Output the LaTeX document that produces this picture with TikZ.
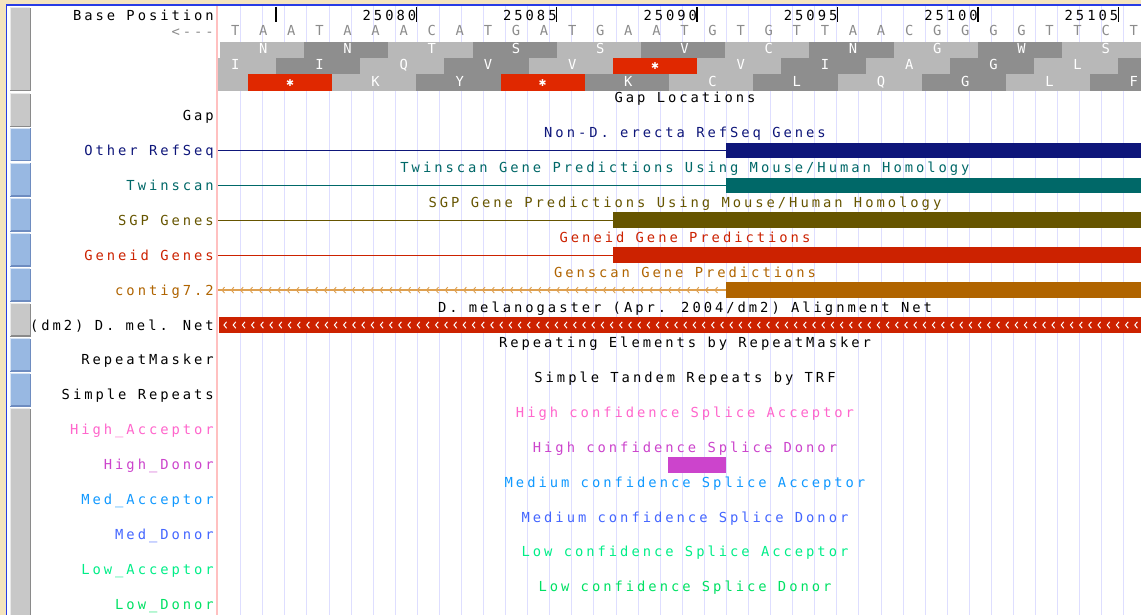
\documentclass[tikz,border=0pt]{standalone}
\usepackage{fontspec}
\newfontfamily\pix{DejaVu Sans Mono}[LetterSpace=21.6]
\newfontfamily\symf{DejaVu Sans}

\definecolor{beige}{RGB}{244,228,190}
\definecolor{frameblue}{RGB}{40,60,230}
\definecolor{guidec}{RGB}{222,222,255}
\definecolor{pinkrule}{RGB}{255,192,192}
\definecolor{aaLight}{RGB}{184,184,184}
\definecolor{aaDark}{RGB}{142,142,142}
\definecolor{stopRed}{RGB}{224,40,0}
\definecolor{baseGray}{RGB}{140,140,140}
\definecolor{refNavy}{RGB}{14,22,122}
\definecolor{twinTeal}{RGB}{0,104,104}
\definecolor{sgpOlive}{RGB}{102,85,0}
\definecolor{geneidRed}{RGB}{204,34,0}
\definecolor{genscanBrown}{RGB}{176,100,0}
\definecolor{genscanLine}{RGB}{222,160,80}
\definecolor{hiAcc}{RGB}{255,102,204}
\definecolor{hiDon}{RGB}{204,68,204}
\definecolor{medAcc}{RGB}{17,153,255}
\definecolor{medDon}{RGB}{68,102,255}
\definecolor{lowAcc}{RGB}{0,238,136}
\definecolor{lowDon}{RGB}{0,225,100}
\definecolor{btnBlue}{RGB}{152,184,226}
\definecolor{btnBlueEdge}{RGB}{110,140,192}
\definecolor{btnGray}{RGB}{200,200,200}
\definecolor{btnGrayEdge}{RGB}{138,138,138}

\tikzset{
  pixfont/.style={font=\pix\fontsize{13.8}{13.8}\selectfont},
  lab/.style={pixfont, inner sep=0, anchor=base east},
  ttl/.style={pixfont, inner sep=0, anchor=base},
  baselet/.style={pixfont, inner sep=0, anchor=base, text=baseGray},
  aalet/.style={pixfont, inner sep=0, anchor=base, text=white},
  guide/.style={guidec, line width=1},
  tickmark/.style={black, line width=1.4},
  chev/.style={white, line width=1},
  arrowtick/.style={genscanLine, line width=0.9},
}

% one amino-acid block of the translated frames: row, first base, letter, fill
\newcommand\cdn[4]{%
  \pgfmathsetmacro\ctop{41.7+16.3*(#1-1)}%
  \fill[#4] ({\xz+\bw*(#2-1)},\ctop) rectangle ({\xz+\bw*(#2+2)},{\ctop+16.3});
  \if\relax\detokenize{#3}\relax\else
    \node[aalet] (aa#1at#2) at ({\xz+\bw*(#2+0.5)+1.4},{\ctop+12}) {#3};
  \fi
}
% stop codon block
\newcommand\stopc[2]{%
  \pgfmathsetmacro\ctop{41.7+16.3*(#1-1)}%
  \fill[stopRed] ({\xz+\bw*(#2-1)},\ctop) rectangle ({\xz+\bw*(#2+2)},{\ctop+16.3});
  \node[inner sep=0, text=white, font=\symf\fontsize{9.5}{9.5}\selectfont] (stop#1at#2)
    at ({\xz+\bw*(#2+0.5)},{\ctop+8.3}) {✱};
}
% track button with bevelled edges: name, top, bottom, fill, edge
\newcommand\btn[5]{%
  \node[fill=#4, minimum width=20pt, minimum height={#3-#2}, inner sep=0,
        anchor=north west] (#1) at (10,#2) {};
  \draw[#5, line width=1.2] (#1.south west) -- (#1.south east) -- (#1.north east);
  \draw[white!60!#4, line width=1] (#1.south west) -- (#1.north west) -- (#1.north east);
}

\begin{document}
\begin{tikzpicture}[x=1pt,y=-1pt]
\def\xz{219.8}\def\bw{28.08}
\useasboundingbox (0,0) rectangle (1141,615);
\fill[white] (0,0) rectangle (1141,615);

% window frame
\fill[beige] (0,0) rectangle (1141,4.2);
\fill[beige] (0,0) rectangle (5.6,615);

% vertical guidelines across the tracks
\foreach \k in {0,...,40}
  \draw[guide] ({240.7+22.08*\k},5.5) -- ({240.7+22.08*\k},615);
\draw[pinkrule, line width=1.2] (217,5.5) -- (217,615);
\draw[frameblue, line width=1.4] (6.7,615) -- (6.7,5) -- (1141,5);

% ---------------- ruler ----------------
\node[lab] (lBase) at (214,20.5) {Base Position};
\node[lab, text=baseGray] (lDir) at (214,36.5) {<---};
\foreach \n [count=\i from 0] in {25075,25080,25085,25090,25095,25100,25105} {
  \draw[tickmark] ({\xz+\bw*(2+5*\i)},7) -- ({\xz+\bw*(2+5*\i)},22);
  \ifnum\i>0
    \node[lab] (r\n) at ({\xz+\bw*(2+5*\i)},20.5) {\n};
  \fi
}
\foreach \b [count=\i] in {T,A,A,T,A,A,A,C,A,T,G,A,T,G,A,A,T,G,T,G,T,T,A,A,C,G,G,G,G,T,T,C,T}
  \node[baselet] (s\i) at ({\xz+\bw*(\i-0.5)+1.4},36) {\b};

% ---------------- three-frame translation ----------------
\begin{scope}
\clip (218,41) rectangle (1141,91);
% frame 1
\cdn{1}{1}{N}{aaLight}  \cdn{1}{4}{N}{aaDark}   \cdn{1}{7}{T}{aaLight}
\cdn{1}{10}{S}{aaDark}  \cdn{1}{13}{S}{aaLight} \cdn{1}{16}{V}{aaDark}
\cdn{1}{19}{C}{aaLight} \cdn{1}{22}{N}{aaDark}  \cdn{1}{25}{G}{aaLight}
\cdn{1}{28}{W}{aaDark}  \cdn{1}{31}{S}{aaLight}
% frame 2
\cdn{2}{0}{I}{aaLight}  \cdn{2}{3}{I}{aaDark}   \cdn{2}{6}{Q}{aaLight}
\cdn{2}{9}{V}{aaDark}   \cdn{2}{12}{V}{aaLight} \stopc{2}{15}
\cdn{2}{18}{V}{aaLight} \cdn{2}{21}{I}{aaDark}  \cdn{2}{24}{A}{aaLight}
\cdn{2}{27}{G}{aaDark}  \cdn{2}{30}{L}{aaLight} \cdn{2}{33}{}{aaDark}
% frame 3
\cdn{3}{-1}{}{aaLight}  \stopc{3}{2}            \cdn{3}{5}{K}{aaLight}
\cdn{3}{8}{Y}{aaDark}   \stopc{3}{11}           \cdn{3}{14}{K}{aaDark}
\cdn{3}{17}{C}{aaLight} \cdn{3}{20}{L}{aaDark}  \cdn{3}{23}{Q}{aaLight}
\cdn{3}{26}{G}{aaDark}  \cdn{3}{29}{L}{aaLight} \cdn{3}{32}{F}{aaDark}
\end{scope}

% ---------------- track titles ----------------
\def\tt#1{103+34.92*#1}
\node[ttl] (tGap) at (685,{\tt{0}}) {Gap Locations};
\node[ttl, text=refNavy] (tRef) at (685,{\tt{1}}) {Non-D. erecta RefSeq Genes};
\node[ttl, text=twinTeal] (tTwin) at (685,{\tt{2}}) {Twinscan Gene Predictions Using Mouse/Human Homology};
\node[ttl, text=sgpOlive] (tSgp) at (685,{\tt{3}}) {SGP Gene Predictions Using Mouse/Human Homology};
\node[ttl, text=geneidRed] (tGeneid) at (685,{\tt{4}}) {Geneid Gene Predictions};
\node[ttl, text=genscanBrown] (tGenscan) at (685,{\tt{5}}) {Genscan Gene Predictions};
\node[ttl] (tNet) at (685,{\tt{6}}) {D. melanogaster (Apr. 2004/dm2) Alignment Net};
\node[ttl] (tRmsk) at (685,{\tt{7}}) {Repeating Elements by RepeatMasker};
\node[ttl] (tTrf) at (685,{\tt{8}}) {Simple Tandem Repeats by TRF};
\node[ttl, text=hiAcc] (tHiAcc) at (685,{\tt{9}}) {High confidence Splice Acceptor};
\node[ttl, text=hiDon] (tHiDon) at (685,{\tt{10}}) {High confidence Splice Donor};
\node[ttl, text=medAcc] (tMedAcc) at (685,{\tt{11}}) {Medium confidence Splice Acceptor};
\node[ttl, text=medDon] (tMedDon) at (685,{\tt{12}}) {Medium confidence Splice Donor};
\node[ttl, text=lowAcc] (tLowAcc) at (685,{\tt{13}}) {Low confidence Splice Acceptor};
\node[ttl, text=lowDon] (tLowDon) at (685,{\tt{14}}) {Low confidence Splice Donor};

% ---------------- features ----------------
\def\fy#1{115.5+34.92*#1}
% Other RefSeq
\draw[refNavy, line width=1.3] (218,{\fy{1}}) -- (726,{\fy{1}});
\fill[refNavy] (726,{\fy{1}-7.8}) rectangle (1141,{\fy{1}+7.8});
% Twinscan
\draw[twinTeal, line width=1.3] (218,{\fy{2}}) -- (726,{\fy{2}});
\fill[twinTeal] (726,{\fy{2}-7.8}) rectangle (1141,{\fy{2}+7.8});
% SGP
\draw[sgpOlive, line width=1.3] (218,{\fy{3}}) -- (613,{\fy{3}});
\fill[sgpOlive] (613,{\fy{3}-7.8}) rectangle (1141,{\fy{3}+7.8});
% Geneid
\draw[geneidRed, line width=1.3] (218,{\fy{4}}) -- (613,{\fy{4}});
\fill[geneidRed] (613,{\fy{4}-7.8}) rectangle (1141,{\fy{4}+7.8});
% Genscan, minus strand intron with direction marks
\draw[genscanLine, line width=1.3] (218,{\fy{5}}) -- (726,{\fy{5}});
\foreach \x in {222,231.3,...,722}
  \draw[arrowtick] ({\x+2.6},{\fy{5}-3}) -- (\x,{\fy{5}}) -- ({\x+2.6},{\fy{5}+3});
\fill[genscanBrown] (726,{\fy{5}-7.8}) rectangle (1141,{\fy{5}+7.8});
% Alignment net, minus strand
\fill[geneidRed] (219,{\fy{6}-8.2}) rectangle (1141,{\fy{6}+8.2});
\foreach \x in {224,233.2,...,1140}
  \draw[chev] ({\x+2.6},{\fy{6}-3.2}) -- (\x,{\fy{6}}) -- ({\x+2.6},{\fy{6}+3.2});
% High confidence donor hit
\fill[hiDon] (668,{\fy{10}-8}) rectangle (726,{\fy{10}+8});

% ---------------- track labels ----------------
\def\ly#1{120.5+34.92*#1}
\node[lab] (lGap) at (214,{\ly{0}}) {Gap};
\node[lab, text=refNavy] (lRef) at (214,{\ly{1}}) {Other RefSeq};
\node[lab, text=twinTeal] (lTwin) at (214,{\ly{2}}) {Twinscan};
\node[lab, text=sgpOlive] (lSgp) at (214,{\ly{3}}) {SGP Genes};
\node[lab, text=geneidRed] (lGeneid) at (214,{\ly{4}}) {Geneid Genes};
\node[lab, text=genscanBrown] (lContig) at (214,{\ly{5}}) {contig7.2};
\node[lab] (lNet) at (214,{\ly{6}}) {(dm2) D. mel. Net};
\node[lab] (lRmsk) at (214,{\ly{7}}) {RepeatMasker};
\node[lab] (lTrf) at (214,{\ly{8}}) {Simple Repeats};
\node[lab, text=hiAcc] (lHiAcc) at (214,{\ly{9}}) {High\_Acceptor};
\node[lab, text=hiDon] (lHiDon) at (214,{\ly{10}}) {High\_Donor};
\node[lab, text=medAcc] (lMedAcc) at (214,{\ly{11}}) {Med\_Acceptor};
\node[lab, text=medDon] (lMedDon) at (214,{\ly{12}}) {Med\_Donor};
\node[lab, text=lowAcc] (lLowAcc) at (214,{\ly{13}}) {Low\_Acceptor};
\node[lab, text=lowDon] (lLowDon) at (214,{\ly{14}}) {Low\_Donor};

% ---------------- track buttons ----------------
\btn{bRuler}{8}{90}{btnGray}{btnGrayEdge}
\btn{bGap}{94}{126}{btnGray}{btnGrayEdge}
\btn{bRef}{128.5}{160.5}{btnBlue}{btnBlueEdge}
\btn{bTwin}{163.5}{195.5}{btnBlue}{btnBlueEdge}
\btn{bSgp}{198.5}{230.5}{btnBlue}{btnBlueEdge}
\btn{bGeneid}{233.5}{265.5}{btnBlue}{btnBlueEdge}
\btn{bContig}{268.5}{300.5}{btnBlue}{btnBlueEdge}
\btn{bNet}{303.5}{335.5}{btnGray}{btnGrayEdge}
\btn{bRmsk}{338.5}{370.5}{btnBlue}{btnBlueEdge}
\btn{bTrf}{373.5}{405.5}{btnBlue}{btnBlueEdge}
\btn{bSplice}{408.5}{618}{btnGray}{btnGrayEdge}
\end{tikzpicture}
\end{document}
